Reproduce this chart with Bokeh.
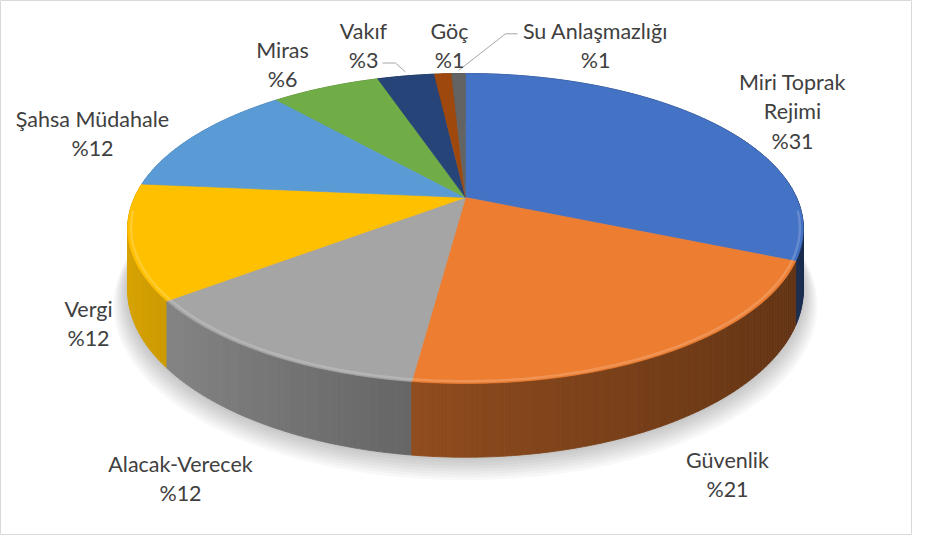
import numpy as np
from bokeh.plotting import figure
from bokeh.models import Range1d, ColumnDataSource
from bokeh.core.properties import value
from bokeh.embed import file_html
from bokeh.resources import INLINE

# ---------------- data ----------------
categories = ["Miri Toprak Rejimi", "Güvenlik", "Alacak-Verecek", "Vergi",
              "Şahsa Müdahale", "Miras", "Vakıf", "Göç", "Su Anlaşmazlığı"]
values = [31.4, 20.6, 12.45, 11.9, 12.1, 6.3, 3.3, 1.0, 0.8]
colors = ["#4472C4", "#ED7D31", "#A5A5A5", "#FFC000", "#5B9BD5",
          "#70AD47", "#264478", "#9E480E", "#636363"]

# label anchor (centre x, first baseline y) in page pixels
label_pos = [(792, 81), (727, 459), (180, 463), (88, 308), (92, 118),
             (282, 49), (363, 30), (449, 30), (595, 30)]
LINE_H = 29.5
# leader lines for the small slices: (category index, xs, ys)
leaders = [(6, [382, 395, 405], [62.5, 62.5, 71.5]),
           (8, [517, 505, 458], [33.3, 33.3, 70])]

# ---------------- geometry (perspective 3D pie) ----------------
CX, CY = 465.0, 197.0
RX, RY = 331.0, 148.8
E = 0.2
D0 = 59.0


def proj(phi, depth=0.0, r=1.0):
    u = r * np.sin(phi)
    v = r * np.cos(phi)
    den = 1 + E * v
    return CX + RX * u / den, CY - RY * v / den + depth * D0 / den


def shade(hex_color, f):
    h = hex_color.lstrip("#")
    rgb = [int(h[i:i + 2], 16) for i in (0, 2, 4)]
    rgb = [max(0, min(255, int(round(c * f)))) for c in rgb]
    return "#%02x%02x%02x" % tuple(rgb)


total = float(sum(values))
fracs = [v / total for v in values]
bounds = np.concatenate([[0.0], np.cumsum(fracs)]) * 2 * np.pi

p = figure(width=912, height=535, x_range=Range1d(0, 912), y_range=Range1d(535, 0),
           toolbar_location=None, output_backend="svg", min_border=0,
           x_axis_location=None, y_axis_location=None)
p.grid.visible = False
p.outline_line_color = "#D9D9D9"
p.outline_line_width = 1
p.background_fill_color = "white"

# soft shadow under the pie
full = np.linspace(0, 2 * np.pi, 361)
for k in range(1, 9):
    sx, sy = proj(full, depth=1.0, r=1 + 0.005 * k)
    p.patch(list(sx), list(sy + 1.6 * k), fill_color="black", fill_alpha=0.028,
            line_color=None)

# side walls (thin strips, shaded by horizontal position)
strips = []
for i, col in enumerate(colors):
    a0, a1 = bounds[i], bounds[i + 1]
    n = max(2, int(np.ceil((a1 - a0) / np.radians(1.0))))
    angs = np.linspace(a0, a1, n + 1)
    for j in range(n):
        a, b = angs[j], angs[j + 1]
        xa, ya = proj(a)
        xb, yb = proj(b)
        xbb, ybb = proj(b, 1.0)
        xab, yab = proj(a, 1.0)
        um = np.sin((a + b) / 2)
        f = 0.58 - 0.28 * um if um < 0 else 0.58 - 0.18 * um
        c = shade(col, f)
        strips.append((np.cos((a + b) / 2), [xa, xb, xbb, xab], [ya, yb, ybb, yab], c))
strips.sort(key=lambda s: -s[0])
side_src = ColumnDataSource(dict(xs=[s[1] for s in strips], ys=[s[2] for s in strips],
                                 c=[s[3] for s in strips]))
p.patches("xs", "ys", source=side_src, fill_color="c", line_color="c", line_width=0.8)

# top faces
txs, tys = [], []
for i in range(len(values)):
    a0, a1 = bounds[i], bounds[i + 1]
    n = max(3, int(np.ceil((a1 - a0) / np.radians(0.5))))
    angs = np.linspace(a0, a1, n + 1)
    x, y = proj(angs)
    txs.append([CX] + list(x))
    tys.append([CY] + list(y))
top_src = ColumnDataSource(dict(xs=txs, ys=tys, c=colors))
p.patches("xs", "ys", source=top_src, fill_color="c", line_color="c", line_width=0.6)

# subtle bevel highlight along the front rim
rim = np.linspace(np.radians(95), np.radians(265), 200)
hx, hy = proj(rim, r=0.99)
p.line(list(hx), list(hy), line_color="white", line_alpha=0.18, line_width=2.5)

# leader lines
for idx, lx, ly in leaders:
    p.line(lx, ly, line_color="#A6A6A6", line_width=1)

# data labels
lx, ly, lt = [], [], []
for name, v, (x0, y0) in zip(categories, values, label_pos):
    pct = int(round(100 * v / total))
    lines = name.rsplit(" ", 1) if len(name) > 16 else [name]
    lines = lines + ["%" + str(pct)]
    for k, t in enumerate(lines):
        lx.append(x0)
        ly.append(y0 + k * LINE_H)
        lt.append(t)
p.text(x=lx, y=ly, text=lt, text_align="center", text_baseline="alphabetic",
       text_font=value("Lato"), text_font_size=value("21.5px"), text_color="#404040")

open("out.html", "w").write(file_html(p, INLINE))
